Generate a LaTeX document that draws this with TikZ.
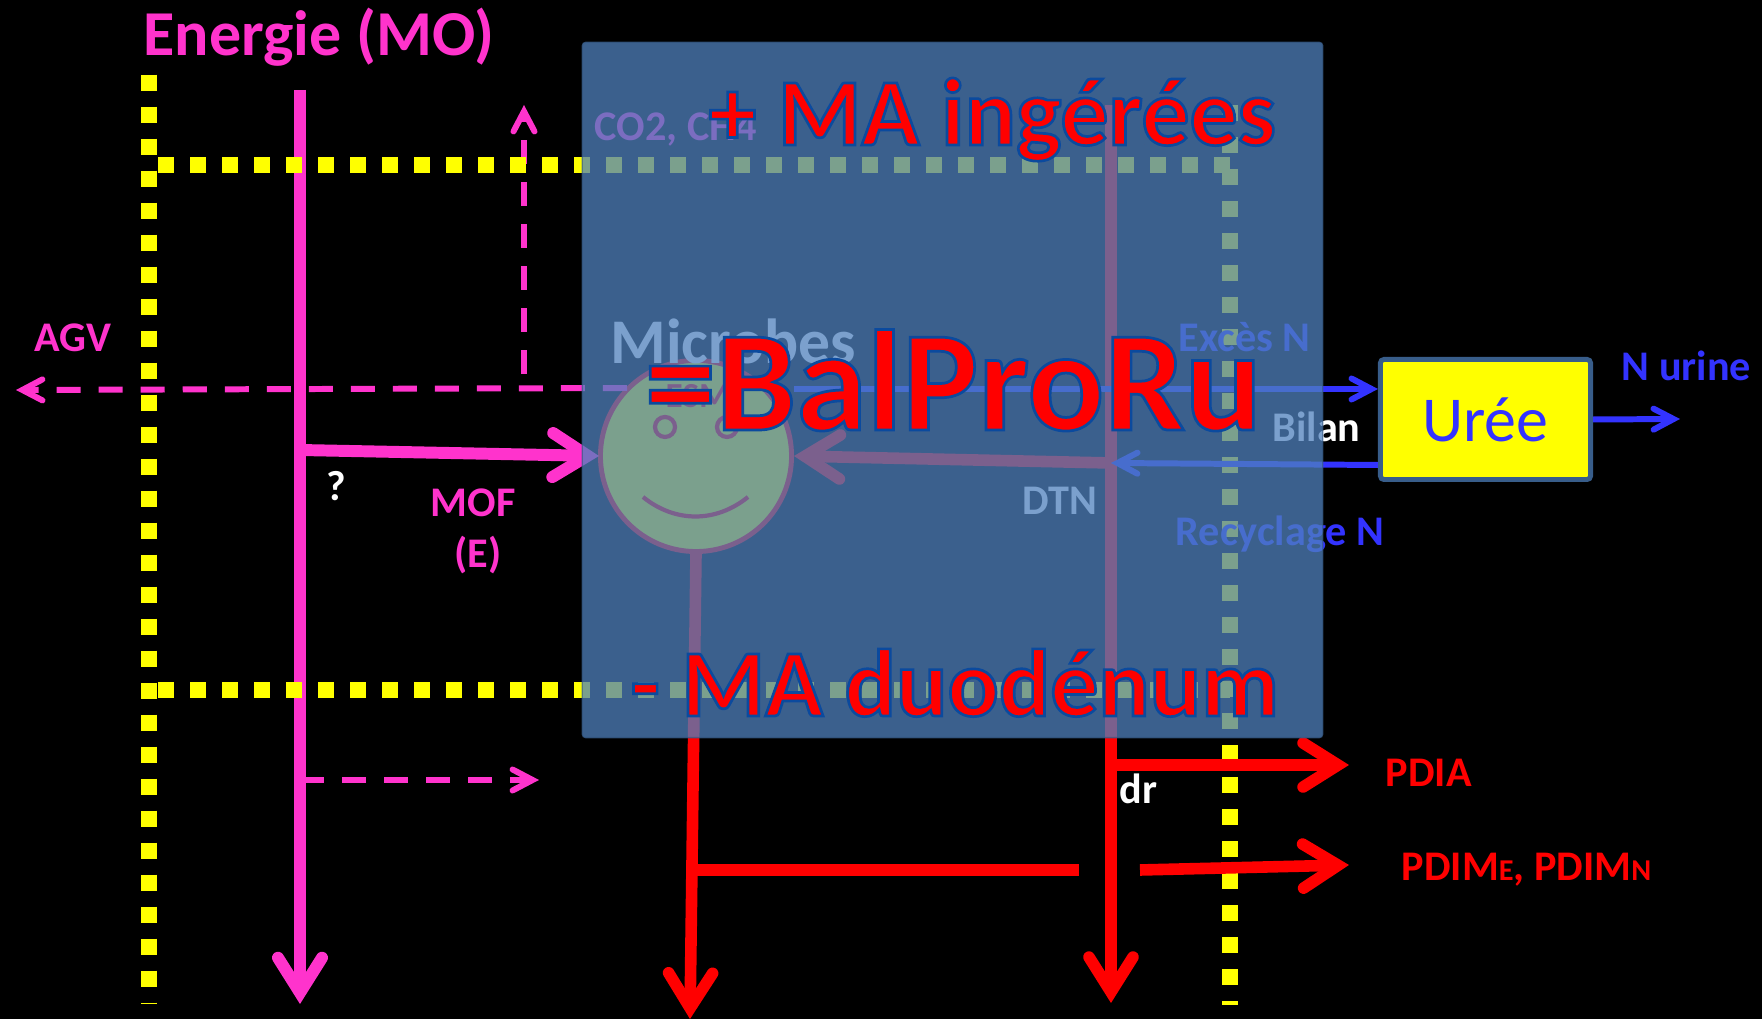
\documentclass[tikz,border=0pt]{standalone}
\usepackage{fontspec}
\setmainfont{Carlito}
\newfontfamily\titlefont[BoldFeatures={FakeBold=2.8}]{Carlito}
\newfontfamily\hugefont[BoldFeatures={FakeBold=1.9}]{Carlito}
\usepackage{tikz}
\usetikzlibrary{arrows.meta, positioning, shapes.geometric}
\definecolor{magentaFlow}{HTML}{FF33CC}
\definecolor{blueFlow}{HTML}{3333FF}
\definecolor{boxBlue}{HTML}{4F81BD}
\definecolor{boxEdge}{HTML}{385D8A}
\definecolor{pureYellow}{HTML}{FFFF00}
\newcommand{\outlined}[1]{\special{pdf:bcolor [1 0 0] [0.043 0.29 0.62]}#1\special{pdf:ecolor}}

\begin{document}
\begin{tikzpicture}[
        x=0.01cm, y=-0.01cm,
        % Global Styles
        bigtip/.style={-{Straight Barb[line cap=round, line join=miter, length=3.5mm, width=4.4mm]}},
        thintip/.style={-{Straight Barb[line cap=round, line join=miter, length=2.0mm, width=2.1mm]}},
        yellowdots/.style={pureYellow, line width=4.55pt, dash pattern=on 4.55pt off 4.55pt},
        dashflow/.style={magentaFlow, line width=1.7pt, dash pattern=on 6.83pt off 5.12pt, thintip},
        mainflow/.style={magentaFlow, line width=3.4pt, bigtip},
        redflow/.style={red, line width=3.3pt, bigtip},
        blueflow/.style={blueFlow, line width=1.7pt, thintip},
        lbl/.style={anchor=base west, inner sep=0pt, font=\fontsize{12pt}{14pt}\selectfont\bfseries},
        biglbl/.style={anchor=base west, inner sep=0pt, font=\titlefont\fontsize{27.2pt}{30pt}\selectfont\bfseries},
        eye/.style={circle, draw=red, line width=1.2pt, inner sep=0pt, minimum size=0.2cm}
    ]

    \useasboundingbox (0,0) rectangle (1762,1019);
    \fill[black] (0,0) rectangle (1762,1019);

    % --- Flow ends and junctions ---
    \coordinate (energyTop) at (300,90);
    \coordinate (energyEnd) at (300,1004);
    \coordinate (mofStart)  at (300,450);
    \coordinate (mofEnd)    at (599,456);
    \coordinate (agvStart)  at (627,388);
    \coordinate (agvEnd)    at (16,390);
    \coordinate (gasStart)  at (524,374);
    \coordinate (gasEnd)    at (524,105);
    \coordinate (lostStart) at (300,780);
    \coordinate (lostEnd)   at (539,780);
    \coordinate (yLeftTop)  at (149,74.6);
    \coordinate (yLeftEnd)  at (149,1004);
    \coordinate (yTopStart) at (158,165);
    \coordinate (yTopEnd)   at (1230,165);
    \coordinate (yBotStart) at (158,690);
    \coordinate (yBotEnd)   at (1230,690);
    \coordinate (yRightTop) at (1230,105);
    \coordinate (yRightEnd) at (1230,1005);
    \coordinate (dtnTop)    at (1111,105);
    \coordinate (dtnEnd)    at (1111,1003);
    \coordinate (dtnBack)   at (1111,463);
    \coordinate (pdiaStart) at (1111,765);
    \coordinate (pdiaEnd)   at (1349,765);
    \coordinate (midLeft)   at (692,870);
    \coordinate (midRight)  at (1079,870);
    \coordinate (pdimStart) at (1140,870);
    \coordinate (pdimEnd)   at (1349,865);
    \coordinate (microEnd)  at (690,1019);
    \coordinate (urineEnd)  at (1680,419);
    \coordinate (smileL)    at (643,497);
    \coordinate (smileR)    at (748,497);

    % Energy line goes under the yellow frame
    \draw[mainflow] (energyTop) -- (energyEnd);
    \draw[dashflow] (gasStart) -- (gasEnd);

    % Yellow frame
    \draw[yellowdots] (yLeftTop) -- (yLeftEnd);
    \draw[yellowdots] (yTopStart) -- (yTopEnd);
    \draw[yellowdots] (yBotStart) -- (yBotEnd);
    \draw[yellowdots] (yRightTop) -- (yRightEnd);

    % --- Microbe face ---
    \node (microbe) [circle, draw=red, line width=1.4pt, fill=pureYellow, inner sep=0pt, minimum size=1.91cm] at (696,456) {};
    \node (eyeL) [eye] at (665,427) {};
    \node (eyeR) [eye] at (727,427) {};
    \draw[red, line width=1.2pt] (smileL) .. controls (675,523) and (716,523) .. (smileR);

    % --- Urea ---
    \node (uree) [rectangle, draw=boxEdge, line width=1.4pt, fill=pureYellow, rounded corners=1pt, minimum width=2.10cm, minimum height=1.20cm, text=blueFlow, font=\fontsize{18.2pt}{20pt}\selectfont] at (1485.5,419.5) {Urée};
    \coordinate (ureeIn) at (uree.west |- 0,389);
    \coordinate (ureeOut) at (uree.west |- 0,465);

    % --- Connections ---
    \draw[dashflow] (agvStart) -- (agvEnd);
    \draw[dashflow] (lostStart) -- (lostEnd);
    \draw[mainflow] (mofStart) -- (mofEnd);
    \draw[red, line width=3.3pt] (dtnTop) -- (dtnBack);
    \draw[redflow] (dtnBack) -- (dtnEnd);
    \draw[redflow] (dtnBack) -- (microbe.east);
    \draw[redflow] (microbe.south) -- (microEnd);
    \draw[redflow] (pdiaStart) -- (pdiaEnd);
    \draw[red, line width=3.3pt] (midLeft) -- (midRight);
    \draw[redflow] (pdimStart) -- (pdimEnd);
    \draw[blueflow] (microbe.east |- ureeIn) -- (ureeIn);
    \draw[blueflow] (ureeOut) -- (dtnBack);
    \draw[blueflow] (uree.east) -- (urineEnd);

    % --- Labels ---
    \node (energie) [lbl, text=magentaFlow, font=\fontsize{18.2pt}{20pt}\selectfont\bfseries] at (143,56) {Energie (MO)};
    \node (agv) [lbl, text=magentaFlow] at (34,352) {AGV};
    \node (question) [lbl, text=white] at (326,501) {?};
    \node (mof) [lbl, text=magentaFlow] at (430,517) {MOF};
    \node (mofE) [lbl, text=magentaFlow] at (454,568) {(E)};
    \node (gas) [lbl, text=magentaFlow] at (594,141) {CO2, CH4};
    \node (microbes) [lbl, text=white, font=\fontsize{18.1pt}{20pt}\selectfont\bfseries] at (610,364) {Microbes};
    \node (esm) [lbl, text=red, font=\fontsize{10pt}{12pt}\selectfont\bfseries] at (665,408) {ESM};
    \node (dtn) [lbl, text=white] at (1022,515) {DTN};
    \node (exces) [lbl, text=blueFlow] at (1178,352) {Excès N};
    \node (recyclage) [lbl, text=blueFlow] at (1175,546) {Recyclage N};
    \node (bilan) [lbl, text=white] at (1272,442) {Bilan};
    \node (urine) [lbl, text=blueFlow] at (1621,381) {N urine};
    \node (pdia) [lbl, text=red] at (1385,787) {PDIA};
    \node (pdim) [lbl, text=red] at (1401,881) {PDIM{\fontsize{8.6pt}{9pt}\selectfont E}, PDIM{\fontsize{8.6pt}{9pt}\selectfont N}};
    \node (dr) [lbl, text=white] at (1119,804) {dr};

    % Blue window over the middle
    \node (window) [rectangle, draw=boxEdge, fill=boxBlue, opacity=0.75, rounded corners=1pt, line width=0.4pt, inner sep=0pt, minimum width=7.4cm, minimum height=6.95cm] at (952.5,390) {};

    % --- Big red titles ---
    \node (ingerees) [biglbl] at (708,145) {\outlined{+ MA ingérées}};
    \node (balpro) [biglbl, font=\hugefont\fontsize{40.7pt}{44pt}\selectfont\bfseries] at (644,430) {\outlined{=BalProRu}};
    \node (duodenum) [biglbl] at (630,716) {\outlined{- MA duodénum}};

\end{tikzpicture}
\end{document}
